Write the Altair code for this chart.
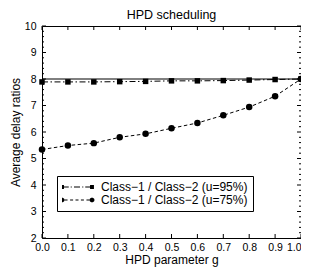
import math
import altair as alt
import pandas as pd

# ---------------- data ----------------
g_values = [0.0, 0.1, 0.2, 0.3, 0.4, 0.5, 0.6, 0.7, 0.8, 0.9, 1.0]
ratio_u95 = [7.89, 7.89, 7.89, 7.90, 7.91, 7.93, 7.93, 7.94, 7.96, 7.98, 8.00]
ratio_u75 = [5.34, 5.49, 5.58, 5.80, 5.93, 6.14, 6.34, 6.63, 6.94, 7.35, 8.00]
series_names = ["Class\u22121 / Class\u22122 (u=95%)", "Class\u22121 / Class\u22122 (u=75%)"]
reference_level = [8]
y_major_ticks = [2, 3, 4, 5, 6, 7, 8, 9, 10]
y_minor_ticks = [round(m + k * 0.2, 1) for m in y_major_ticks[:-1] for k in (1, 2, 3, 4)]
x_ticks = g_values

FONT = "Liberation Sans"
W, H = 259, 212

df = pd.DataFrame({
    "g": g_values + g_values,
    "ratio": ratio_u95 + ratio_u75,
    "series": [series_names[0]] * len(g_values) + [series_names[1]] * len(g_values),
})

xs = alt.Scale(domain=[0, 1], nice=False, zero=False)
ys = alt.Scale(domain=[2, 10], nice=False, zero=False)

x_axis = alt.Axis(values=x_ticks, format=".1f", title="HPD parameter g", ticks=False,
                  tickSize=0, domain=False, grid=False, labelPadding=4, titlePadding=2,
                  labelAlign=alt.ExprRef("datum.value >= 1 ? 'right' : 'center'"))
y_axis = alt.Axis(values=y_major_ticks, format="d", title="Average delay ratios", ticks=False,
                  tickSize=0, domain=False, grid=False, labelPadding=6, titlePadding=2)


def X(field):
    return alt.X(field, scale=xs, axis=x_axis)


def Y(field):
    return alt.Y(field, scale=ys, axis=y_axis)


def series_layers(name, dash, shape, msize):
    base = alt.Chart(df).transform_filter(alt.datum.series == name)
    line = base.mark_line(color="black", strokeWidth=1, strokeDash=dash).encode(
        x=X("g:Q"), y=Y("ratio:Q"))
    pts = base.mark_point(shape=shape, filled=True, color="black", size=msize, opacity=1).encode(
        x=X("g:Q"), y=Y("ratio:Q"))
    return [line, pts]


ref = alt.Chart(pd.DataFrame({"ratio": reference_level})).mark_rule(
    color="black", strokeWidth=1).encode(y=Y("ratio:Q"))

# inward ticks on all four sides
ymaj = pd.DataFrame({"ratio": y_major_ticks})
ymin = pd.DataFrame({"ratio": y_minor_ticks})
xt = pd.DataFrame({"g": x_ticks})
tick_layers = []
for data, ln in ((ymaj, 4), (ymin, 2)):
    for a, b in ((0, ln), (W, W - ln)):
        tick_layers.append(alt.Chart(data).mark_rule(color="black", strokeWidth=1).encode(
            y=Y("ratio:Q"), x=alt.value(a), x2=alt.value(b)))
for a, b in ((H, H - 4), (0, 4)):
    tick_layers.append(alt.Chart(xt).mark_rule(color="black", strokeWidth=1).encode(
        x=X("g:Q"), y=alt.value(a), y2=alt.value(b)))


# legend symbols: a sample line with a marker at each end (path units, +-1 = ends)
TH = 0.036  # half thickness of the sample line


def seg(a, b):
    return f"M{a:.3f},{-TH:.3f}H{b:.3f}V{TH:.3f}H{a:.3f}Z"


def square(cx, h):
    return f"M{cx - h:.3f},{-h:.3f}H{cx + h:.3f}V{h:.3f}H{cx - h:.3f}Z"


def octagon(cx, r):
    pts = []
    for k in range(8):
        ang = math.radians(22.5 + 45 * k)
        pts.append(f"{cx + r * math.cos(ang):.3f},{r * math.sin(ang):.3f}")
    return "M" + "L".join(pts) + "Z"


path95 = " ".join([square(-1, 0.13), square(1, 0.13),
                   seg(-0.88, -0.55), seg(-0.42, -0.35), seg(-0.20, 0.20),
                   seg(0.35, 0.42), seg(0.55, 0.88)])
path75 = " ".join([octagon(-1, 0.17), octagon(1, 0.17),
                   seg(-0.83, -0.63), seg(-0.46, -0.26), seg(-0.10, 0.10),
                   seg(0.26, 0.46), seg(0.63, 0.83)])

legend_layer = alt.Chart(df).transform_filter("false").mark_point(
    filled=True, color="black", opacity=1
).encode(
    shape=alt.Shape(
        "series:N",
        scale=alt.Scale(domain=series_names, range=[path95, path75]),
        legend=alt.Legend(title=None, orient="none", legendX=15, legendY=150,
                          symbolSize=900, clipHeight=12, rowPadding=1,
                          labelOffset=9, padding=5, strokeColor="black",
                          fillColor="white", symbolStrokeWidth=0,
                          symbolFillColor="black"),
    )
)

layers = (series_layers(series_names[0], [6, 2.5, 1.5, 2.5], "square", 30)
          + series_layers(series_names[1], [3.5, 2.5], "circle", 42)
          + [ref] + tick_layers + [legend_layer])

chart = alt.layer(*layers).properties(
    width=W, height=H,
    title=alt.TitleParams("HPD scheduling", font=FONT, fontSize=12.5, fontWeight="normal",
                          color="black", anchor="middle", offset=0),
    padding={"left": 34, "top": 18, "right": 0, "bottom": 30},
    autosize=alt.AutoSizeParams(type="none"),
).configure_view(
    stroke="black", strokeWidth=1
).configure_axis(
    labelFont=FONT, labelFontSize=10.5, labelColor="black",
    titleFont=FONT, titleFontSize=12, titleFontWeight="normal", titleColor="black",
).configure_legend(
    labelFont=FONT, labelFontSize=12, labelColor="black",
)

chart.save("out.html", embed_options={"renderer": "svg", "actions": False})
